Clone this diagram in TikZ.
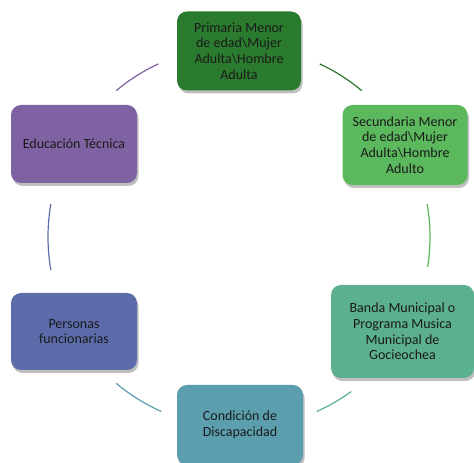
\documentclass[tikz,border=0pt]{standalone}
\usepackage{fontspec}
\setmainfont{Carlito}
\usepackage{tikz}
\usetikzlibrary{calc,shadows}
\definecolor{ink}{HTML}{1A1A1A}
\definecolor{primc}{HTML}{2B7B2F}
\definecolor{secc}{HTML}{5BB85D}
\definecolor{bandc}{HTML}{5BB08E}
\definecolor{discc}{HTML}{5B9FAF}
\definecolor{persc}{HTML}{5C6BA9}
\definecolor{educ}{HTML}{7F62A1}
\tikzset{
  box/.style={rounded corners=10pt, align=center, text=ink, inner sep=2pt,
    font=\fontsize{14}{15.7}\selectfont,
    drop shadow={shadow xshift=1.5pt, shadow yshift=-3pt, opacity=0.25, fill=black}},
  link/.style={line width=1.2pt}
}

\begin{document}
\begin{tikzpicture}[x=1pt,y=1pt]
  \useasboundingbox (0,0) rectangle (474,463);
  \coordinate (c) at (239,226);
  \def\R{191pt}

  % steps of the cycle
  \node[box, fill=primc, minimum width=124pt, minimum height=79pt] (prim) at (239,412)
    {Primaria Menor\\de edad\textbackslash Mujer\\Adulta\textbackslash Hombre\\Adulta};
  \node[box, fill=secc, minimum width=125pt, minimum height=80pt] (sec) at (405,318)
    {Secundaria Menor\\de edad\textbackslash Mujer\\Adulta\textbackslash Hombre\\Adulto};
  \node[box, fill=bandc, minimum width=143pt, minimum height=93pt] (band) at (402.5,131.5)
    {Banda Municipal o\\Programa Musica\\Municipal de\\Gocieochea};
  \node[box, fill=discc, minimum width=126pt, minimum height=80pt] (disc) at (240,38)
    {Condición de\\Discapacidad};
  \node[box, fill=persc, minimum width=126pt, minimum height=77pt] (pers) at (74,131.5)
    {Personas\\funcionarias};
  \node[box, fill=educ, minimum width=126pt, minimum height=78pt] (edu) at (74,319)
    {Educación Técnica};

  % arcs between steps
  \coordinate (a1) at ($(c)+(65:\R)$);
  \coordinate (a2) at ($(c)+(10:\R)$);
  \coordinate (a3) at ($(c)+(-54:\R)$);
  \coordinate (a4) at ($(c)+(-114:\R)$);
  \coordinate (a5) at ($(c)+(190:\R)$);
  \coordinate (a6) at ($(c)+(130:\R)$);
  \draw[link, draw=primc] (a1) arc[start angle=65, end angle=50, radius=\R];
  \draw[link, draw=secc] (a2) arc[start angle=10, end angle=-9, radius=\R];
  \draw[link, draw=bandc] (a3) arc[start angle=-54, end angle=-66, radius=\R];
  \draw[link, draw=discc] (a4) arc[start angle=-114, end angle=-130, radius=\R];
  \draw[link, draw=persc] (a5) arc[start angle=190, end angle=170, radius=\R];
  \draw[link, draw=educ] (a6) arc[start angle=130, end angle=115, radius=\R];
\end{tikzpicture}
\end{document}
